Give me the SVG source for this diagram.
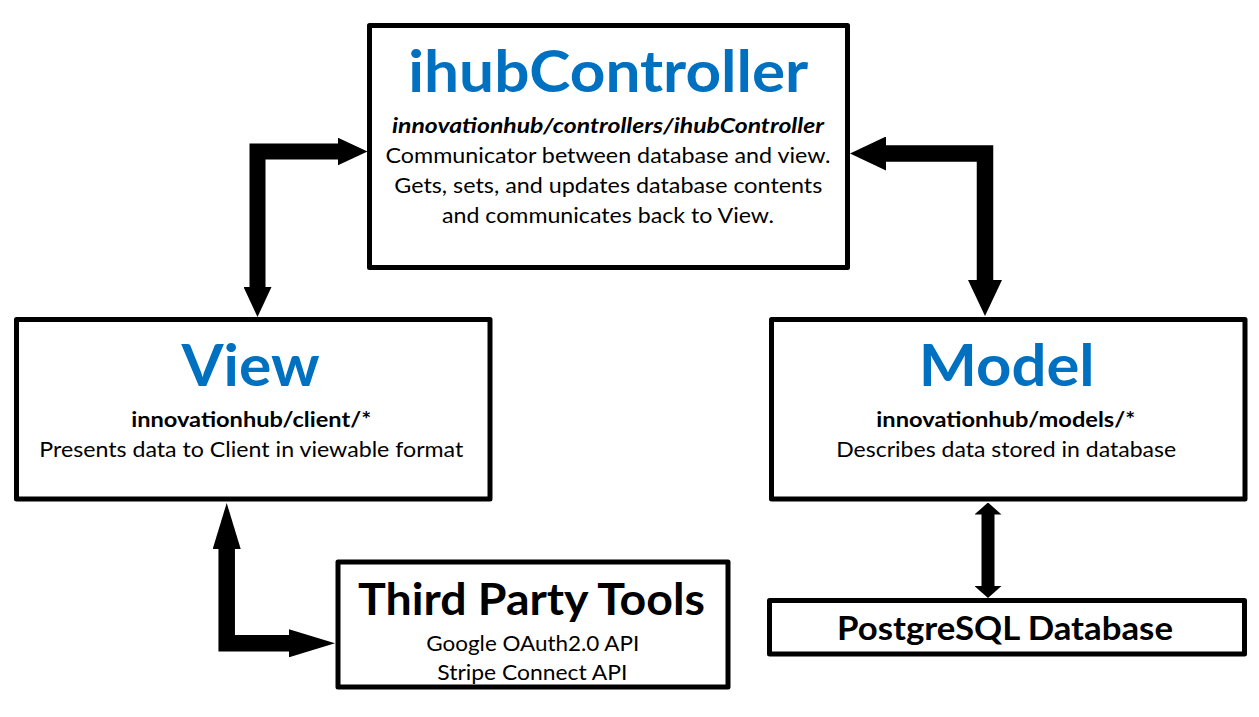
<svg xmlns="http://www.w3.org/2000/svg" width="1259" height="717" viewBox="0 0 1259 717">
<style>
.box{fill:#ffffff;stroke:#000000;stroke-width:5;stroke-linejoin:round}
.title{font-family:Lato,"Liberation Sans",sans-serif;font-weight:bold;font-size:57px;fill:#0070C0;text-anchor:middle}
.head{font-family:Lato,"Liberation Sans",sans-serif;font-weight:bold;fill:#000000;text-anchor:middle}
.sub{font-family:Lato,"Liberation Sans",sans-serif;font-weight:bold;font-size:21px;fill:#000000;text-anchor:middle}
.body{font-family:Lato,"Liberation Sans",sans-serif;font-size:21px;fill:#000000;text-anchor:middle}
.conn{fill:none;stroke:#000000;stroke-linejoin:miter;stroke-linecap:butt}
</style>
<defs>
<marker id="mA" viewBox="0 0 30 28" refX="0.5" refY="14" markerWidth="30" markerHeight="28" markerUnits="userSpaceOnUse" orient="auto-start-reverse"><path d="M0,0 L30,14 L0,28 Z" fill="#000000"/></marker>
<marker id="mB" viewBox="0 0 36 34" refX="0.5" refY="17" markerWidth="36" markerHeight="34" markerUnits="userSpaceOnUse" orient="auto-start-reverse"><path d="M0,0 L36,17 L0,34 Z" fill="#000000"/></marker>
<marker id="mC" viewBox="0 0 46 28" refX="0.5" refY="14" markerWidth="46" markerHeight="28" markerUnits="userSpaceOnUse" orient="auto-start-reverse"><path d="M0,0 L46,14 L0,28 Z" fill="#000000"/></marker>
<marker id="mD" viewBox="0 0 12 27" refX="0.5" refY="13.5" markerWidth="12" markerHeight="27" markerUnits="userSpaceOnUse" orient="auto-start-reverse"><path d="M0,0 L12,13.5 L0,27 Z" fill="#000000"/></marker>
</defs>
<g id="connectors">
<path class="conn" stroke-width="16" d="M257.5,287.5 L257.5,151.5 L338,151.5" marker-start="url(#mA)" marker-end="url(#mA)"/>
<path class="conn" stroke-width="16.5" d="M885.5,153.5 L985,153.5 L985,280.5" marker-start="url(#mB)" marker-end="url(#mB)"/>
<path class="conn" stroke-width="16.5" d="M226.7,548.5 L226.7,643.3 L289.5,643.3" marker-start="url(#mC)" marker-end="url(#mC)"/>
<path class="conn" stroke-width="13" d="M988,514 L988,586.5" marker-start="url(#mD)" marker-end="url(#mD)"/>
</g>
<g id="ihubController">
<rect class="box" x="369.5" y="25.5" width="478" height="242"/>
<text class="title" x="608.3" y="91.7" textLength="400" lengthAdjust="spacingAndGlyphs">ihubController</text>
<text class="sub" x="608" y="133.3" font-style="italic" textLength="432" lengthAdjust="spacingAndGlyphs">innovationhub/controllers/ihubController</text>
<text class="body" x="608" y="163.3" textLength="445" lengthAdjust="spacingAndGlyphs">Communicator between database and view.</text>
<text class="body" x="608.3" y="193.3" textLength="428" lengthAdjust="spacingAndGlyphs">Gets, sets, and updates database contents</text>
<text class="body" x="608" y="223.3" textLength="332" lengthAdjust="spacingAndGlyphs">and communicates back to View.</text>
</g>
<g id="view">
<rect class="box" x="16.5" y="319.5" width="473.5" height="179.5"/>
<text class="title" x="250.5" y="385.7" textLength="138" lengthAdjust="spacingAndGlyphs">View</text>
<text class="sub" x="251.2" y="427.3" textLength="240" lengthAdjust="spacingAndGlyphs">innovationhub/client/*</text>
<text class="body" x="251.3" y="456.7" textLength="424" lengthAdjust="spacingAndGlyphs">Presents data to Client in viewable format</text>
</g>
<g id="model">
<rect class="box" x="771.5" y="319.5" width="473.5" height="179.5"/>
<text class="title" x="1006.7" y="385.7" textLength="176" lengthAdjust="spacingAndGlyphs">Model</text>
<text class="sub" x="1005.8" y="427.3" textLength="259" lengthAdjust="spacingAndGlyphs">innovationhub/models/*</text>
<text class="body" x="1006.2" y="456.7" textLength="340" lengthAdjust="spacingAndGlyphs">Describes data stored in database</text>
</g>
<g id="thirdParty">
<rect class="box" x="338" y="562" width="390" height="125"/>
<text class="head" x="531.5" y="614.7" font-size="44" textLength="347" lengthAdjust="spacingAndGlyphs">Third Party Tools</text>
<text class="body" x="532.8" y="650.7" textLength="213" lengthAdjust="spacingAndGlyphs">Google OAuth2.0 API</text>
<text class="body" x="532.3" y="679.7" textLength="190" lengthAdjust="spacingAndGlyphs">Stripe Connect API</text>
</g>
<g id="postgres">
<rect class="box" x="769.5" y="600.5" width="475" height="53.5"/>
<text class="head" x="1005" y="640" font-size="32.5" textLength="336" lengthAdjust="spacingAndGlyphs">PostgreSQL Database</text>
</g>
</svg>
